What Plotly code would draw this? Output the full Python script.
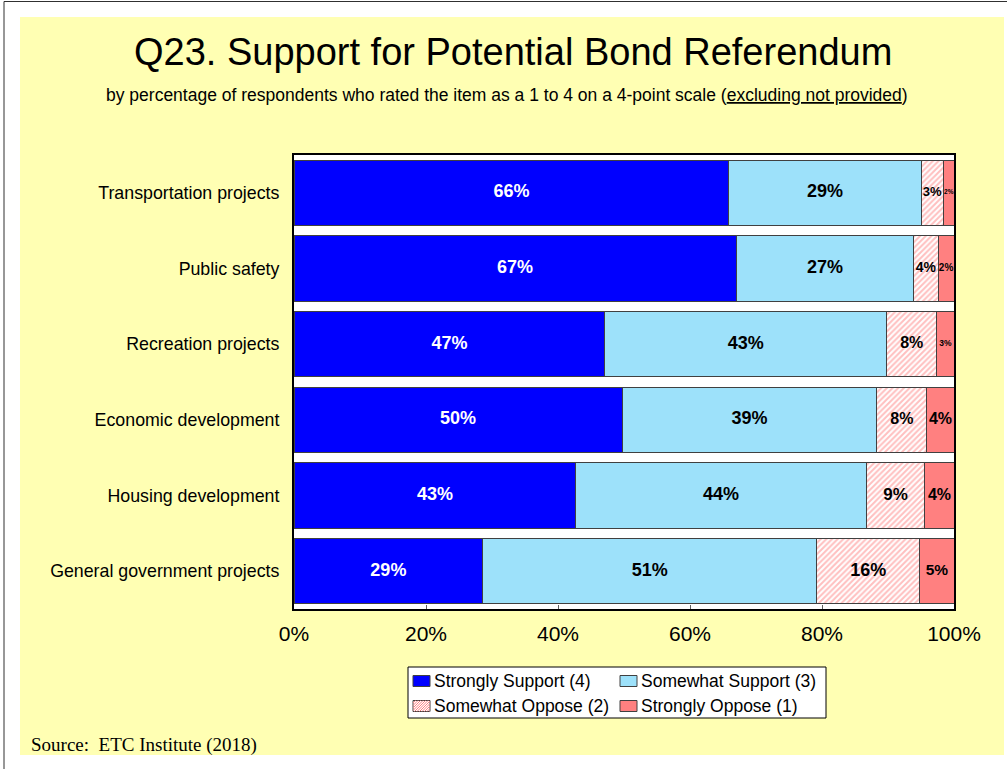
import plotly.graph_objects as go
import numpy as np

# ---- data -------------------------------------------------------------
categories = [
    "Transportation projects",
    "Public safety",
    "Recreation projects",
    "Economic development",
    "Housing development",
    "General government projects",
]
strongly_support = [65.9, 67.0, 47.1, 49.7, 42.7, 28.6]
somewhat_support = [29.1, 26.9, 42.7, 38.6, 44.0, 50.6]
somewhat_oppose = [3.4, 3.7, 7.6, 7.6, 8.9, 15.6]
strongly_oppose = [1.6, 2.4, 2.6, 4.1, 4.4, 5.2]

series_names = [
    "Strongly Support (4)",
    "Somewhat Support (3)",
    "Somewhat Oppose (2)",
    "Strongly Oppose (1)",
]
tick_values = [0, 20, 40, 60, 80, 100]
tick_labels = ["0%", "20%", "40%", "60%", "80%", "100%"]

# ---- styling ----------------------------------------------------------
FONT = "Liberation Sans, Arial, sans-serif"
BLUE = "#0000ff"
CYAN = "#9de1fa"
PINK = "#ff8080"
BG_YELLOW = "#ffffb3"
EDGE = "#404040"

W, H = 1007, 769
PL, PT, PW, PH = 294, 155, 660, 454  # plot area in pixels


def fx(x):
    return (x - PL) / PW


def fy(y):
    return (PT + PH - y) / PH


series = [strongly_support, somewhat_support, somewhat_oppose, strongly_oppose]
label_sizes = [
    [18, 18, 18, 18, 18, 18],
    [18, 18, 18, 18, 18, 18],
    [13, 14, 16, 16, 17, 18],
    [6.5, 10, 8.5, 16, 16, 15.5],
]
label_colors = ["white", "black", "black", "black"]

fig = go.Figure()

bar_styles = [
    dict(color=BLUE),
    dict(color=CYAN),
    dict(color="white", pattern=dict(shape="/", fgcolor=PINK, bgcolor="white",
                                     size=4, solidity=0.5)),
    dict(color=PINK),
]

for name, vals, style in zip(series_names, series, bar_styles):
    fig.add_trace(go.Bar(
        y=categories, x=vals, orientation="h", name=name,
        marker=dict(**style, line=dict(color=EDGE, width=1)),
        showlegend=False, hoverinfo="skip",
    ))

# value labels centred in each segment
values = np.array(series)
left = np.cumsum(values, axis=0) - values
for i, vals in enumerate(series):
    centers = left[i] + values[i] / 2
    fig.add_trace(go.Scatter(
        x=centers, y=categories, mode="text",
        text=[f"{v:.0f}%" for v in vals],
        textposition="middle center",
        textfont=dict(family=FONT, size=label_sizes[i], color=label_colors[i],
                      weight="bold"),
        showlegend=False, hoverinfo="skip",
    ))

shapes = [
    # yellow panel, white plot area
    dict(type="rect", xref="paper", yref="paper", layer="below",
         x0=fx(20), x1=fx(1004), y0=fy(755), y1=fy(17),
         fillcolor=BG_YELLOW, line=dict(width=0)),
    dict(type="rect", xref="paper", yref="paper", layer="below",
         x0=0, x1=1, y0=0, y1=1, fillcolor="white", line=dict(width=0)),
    # page frame lines
    dict(type="line", xref="paper", yref="paper",
         x0=fx(4), x1=fx(1007), y0=fy(1.5), y1=fy(1.5),
         line=dict(color="#303030", width=1)),
    dict(type="line", xref="paper", yref="paper",
         x0=fx(4), x1=fx(4), y0=fy(1.5), y1=fy(769),
         line=dict(color="#303030", width=1)),
    # legend box
    dict(type="rect", xref="paper", yref="paper",
         x0=fx(408), x1=fx(826), y0=fy(718), y1=fy(667),
         fillcolor="white", line=dict(color="black", width=1)),
]

annotations = [
    dict(text="Q23. Support for Potential Bond Referendum",
         x=fx(513), y=fy(52), xref="paper", yref="paper",
         xanchor="center", yanchor="middle", showarrow=False,
         font=dict(family=FONT, size=38, color="black")),
    dict(text="by percentage of respondents who rated the item as a 1 to 4 on a "
              "4-point scale (<u>excluding not provided</u>)",
         x=fx(507), y=fy(95), xref="paper", yref="paper",
         xanchor="center", yanchor="middle", showarrow=False,
         font=dict(family=FONT, size=17.5, color="black")),
    dict(text="Source:  ETC Institute (2018)",
         x=fx(29), y=fy(745), xref="paper", yref="paper",
         xanchor="left", yanchor="middle", showarrow=False,
         font=dict(family="Liberation Serif, Times New Roman, serif",
                   size=19, color="black")),
]

# legend entries: marker swatch + label
legend_cells = [(413, 681), (620, 681), (413, 706), (620, 706)]
swatch_fill = [BLUE, CYAN, "white", PINK]
for name, (lx, ly), fill in zip(series_names, legend_cells, swatch_fill):
    x0, x1, y0, y1 = lx, lx + 17, ly - 5.5, ly + 5.5
    shapes.append(dict(type="rect", xref="paper", yref="paper",
                       x0=fx(x0), x1=fx(x1), y0=fy(y1), y1=fy(y0),
                       fillcolor=fill, line=dict(color=EDGE, width=1)))
    if fill == "white":
        # diagonal hatch inside the swatch
        path = ""
        for s in np.arange(-11, 17, 2.5):
            ax, ay = x0 + s, y1
            bx, by = x0 + s + 11, y0
            if ax < x0:
                ay = y1 - (x0 - ax)
                ax = x0
            if bx > x1:
                by = y0 + (bx - x1)
                bx = x1
            path += f"M{fx(ax)},{fy(ay)} L{fx(bx)},{fy(by)} "
        shapes.append(dict(type="path", xref="paper", yref="paper", path=path,
                           line=dict(color=PINK, width=1)))
    annotations.append(dict(
        text=name, x=fx(lx + 19), y=fy(ly), xref="paper", yref="paper",
        xanchor="left", yanchor="middle", showarrow=False,
        font=dict(family=FONT, size=17.5, color="black")))

fig.update_layout(
    width=W, height=H,
    margin=dict(l=PL, r=W - PL - PW, t=PT, b=H - PT - PH, pad=0),
    paper_bgcolor="white", plot_bgcolor="white",
    barmode="stack", bargap=0.14,
    shapes=shapes, annotations=annotations,
    showlegend=False,
    xaxis=dict(range=[0, 100], tickvals=tick_values, ticktext=tick_labels,
               ticks="inside", ticklen=4, tickcolor="#606060", tickwidth=1,
               showline=True, linecolor="black", linewidth=2, mirror=True,
               showgrid=False, zeroline=False, ticklabelstandoff=5,
               tickfont=dict(family=FONT, size=21, color="black")),
    yaxis=dict(autorange="reversed", showline=True, linecolor="black",
               linewidth=2, mirror=True, ticks="", showgrid=False,
               ticklabelstandoff=9,
               tickfont=dict(family=FONT, size=17.8, color="black")),
)

fig.write_html("out.html")
